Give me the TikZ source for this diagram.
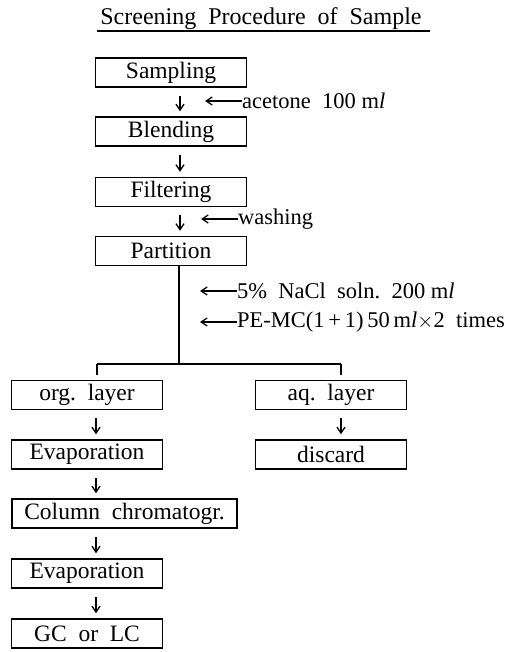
\documentclass[tikz,border=0pt]{standalone}
\usepackage{fontspec}
\setmainfont{Liberation Serif}
\usetikzlibrary{arrows.meta,positioning}
\tikzset{
  stepbox/.style={draw,line width=1.4pt,minimum width=151pt,minimum height=29pt,inner sep=0pt,font=\fontsize{23.5}{26}\selectfont},
  dn/.style={-{Straight Barb[length=6pt,width=8pt]},line width=1.3pt,shorten >=5pt,shorten <=8pt},
  sidear/.style={-{Straight Barb[length=6pt,width=8pt]},line width=1.3pt},
  note/.style={anchor=west,inner sep=0pt,font=\fontsize{22.5}{26}\selectfont},
  ln/.style={line width=1.4pt}
}
\begin{document}
\begin{tikzpicture}[x=1pt,y=-1pt]
\useasboundingbox (0,0) rectangle (525,652);
% title
\node[font=\fontsize{24}{28}\selectfont,inner sep=0pt,anchor=base] (title) at (261,25) {Screening\ \ Procedure\ \ of\ \ Sample};
\draw[ln] ([xshift=-3pt,yshift=-6pt]title.base west) -- ([xshift=8pt,yshift=-6pt]title.base east);

% main column
\node[stepbox] (sampling) at (171,72.5) {Sampling};
\node[stepbox] (blending) at (171,131.5) {Blending};
\node[stepbox] (filtering) at (171,192) {Filtering};
\node[stepbox] (partition) at (171,251) {Partition};

\draw[dn] ([xshift=9pt]sampling.south) -- ([xshift=9pt]blending.north);
\draw[dn] ([xshift=9pt]blending.south) -- ([xshift=9pt]filtering.north);
\draw[dn] ([xshift=9pt]filtering.south) -- ([xshift=9pt]partition.north);

% reagents
\node[note] (acetone) at (242,101) {acetone\ \ 100 m\textit{l}};
\node[note] (washing) at (238,219) {washing};
\node[note] (nacl) at (237,291) {5\%\ \ NaCl\ \ soln.\ \ 200 m\textit{l}};
\node[note] (pemc) at (237,322) {PE-MC(1\,+\,1)\,50\,m\textit{l}$\times$2\ \ times};
\draw[sidear] (acetone.west) -- ++(-37,0);
\draw[sidear] (washing.west) -- ++(-37,0);
\draw[sidear] (nacl.west) -- ++(-37,0);
\draw[sidear] (pemc.west) -- ++(-37,0);

% split
\node[stepbox] (org) at (87,395) {org.\ \ layer};
\node[stepbox] (aq) at (331,395) {aq.\ \ layer};
\coordinate (fork) at (179,364);
\draw[ln] ([xshift=8pt]partition.south) -- (fork);
\draw[ln] ([xshift=10pt]org.north |- fork) -- ([xshift=10pt]aq.north |- fork);
\draw[ln] ([xshift=10pt]org.north |- fork) -- ([xshift=10pt,yshift=5pt]org.north);
\draw[ln] ([xshift=10pt]aq.north |- fork) -- ([xshift=10pt,yshift=5pt]aq.north);

% organic branch
\node[stepbox] (evapa) at (87,454.5) {Evaporation};
\node[stepbox,minimum width=225pt] (column) at (124.5,513.5) {Column\ \ chromatogr.};
\node[stepbox] (evapb) at (87,573.5) {Evaporation};
\node[stepbox] (gclc) at (87,633.5) {GC\ \ or\ \ LC};
\draw[dn] ([xshift=9pt]org.south) -- ([xshift=9pt]evapa.north);
\draw[dn] ([xshift=9pt]evapa.south) -- ([xshift=9pt]evapa.south |- column.north);
\draw[dn] ([xshift=9pt]evapb.north |- column.south) -- ([xshift=9pt]evapb.north);
\draw[dn] ([xshift=9pt]evapb.south) -- ([xshift=9pt]gclc.north);

% aqueous branch
\node[stepbox] (discard) at (331,454.5) {discard};
\draw[dn] ([xshift=10pt]aq.south) -- ([xshift=10pt]discard.north);
\end{tikzpicture}
\end{document}
